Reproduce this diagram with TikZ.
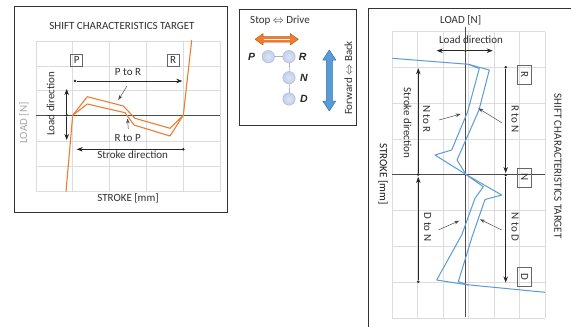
\documentclass[tikz,border=0pt]{standalone}
\usepackage{fontspec}
\setmainfont{Carlito}
\newfontfamily\gearfont{Liberation Sans}
\usetikzlibrary{arrows.meta}
\definecolor{orng}{HTML}{ED7D31}
\definecolor{orngd}{HTML}{C55A11}
\definecolor{blu}{HTML}{5B9BD5}
\definecolor{blud}{HTML}{2E75B6}
\definecolor{gridc}{HTML}{DCDCDC}
\definecolor{txt}{HTML}{303030}
\definecolor{ballc}{HTML}{C6D3EC}
\definecolor{balld}{HTML}{A7B9DC}
\tikzset{
  frame/.style={draw=black!80, line width=1pt},
  gridl/.style={draw=gridc, line width=0.6pt},
  axisl/.style={draw=black!70, line width=0.7pt},
  lbl/.style={text=txt, font=\fontsize{11}{13}\selectfont, inner sep=0pt},
  dirarrow/.style={-{Stealth[length=6pt,width=4.5pt]}, draw=black!85, line width=0.6pt},
  ptr/.style={-{Stealth[length=5pt,width=3.5pt]}, draw=black!70, line width=0.5pt},
  dotc/.style={circle, fill=black!85, inner sep=0pt, minimum size=2.8pt},
  curveO/.style={draw=orng, line width=1.1pt, line join=round},
  curveB/.style={draw=blu, line width=1pt, line join=round},
  lbox/.style={lbl, draw=black!60, line width=0.6pt, minimum size=12pt},
  rbox/.style={lbl, draw=black!60, line width=0.6pt, minimum width=19pt, minimum height=14pt},
  ball/.style={circle, inner color=ballc!60!white, outer color=ballc!85!balld, draw=balld, line width=0.4pt, minimum size=12.5pt, inner sep=0pt},
  gear/.style={font=\gearfont\bfseries\itshape\fontsize{10.5}{12}\selectfont, text=black!85, inner sep=0pt}
}
\begin{document}
\begin{tikzpicture}[x=1pt,y=-1pt]
\useasboundingbox (0,0) rectangle (571,327);
\fill[white] (0,0) rectangle (571,327);

%%% ---------------- left panel ----------------
\draw[frame] (14,6) rectangle (227,212.5);
\foreach \x in {36,72.7,109.5,146.4,183.3,220} \draw[gridl] (\x,41) -- (\x,191.7);
\foreach \y in {41,66,90.7,141.5,166.7,191.7} \draw[gridl] (36,\y) -- (220,\y);
\draw[axisl] (36,115.3) -- (220,115.3);

\draw[curveO] (66,191.7) -- (72.7,115.3) -- (87.3,96.7) -- (123.3,106) -- (135,118.3)
   -- (170,128.3) -- (183.3,115.3) -- (191.7,40);
\draw[curveO] (72.7,115.3) -- (87.3,104) -- (125,112.7) -- (134,125) -- (170,136) -- (183.3,115.3);

\node[lbl] (ltitle) at (122,26) {SHIFT CHARACTERISTICS TARGET};
\node[lbox] (lP) at (76.7,60) {P};
\node[lbox] (lR) at (173,60) {R};
\node[lbl] (lPR) at (128,72) {P to R};
\node[lbl] (lRP) at (127.7,138) {R to P};
\node[lbl] (lSD) at (132.7,155) {Stroke direction};
\node[lbl, rotate=90] (lLD) at (50.7,104) {Load direction};
\node[lbl, rotate=90, text=black!35] (lLoad) at (24,123) {LOAD [N]};
\node[lbl] (lStroke) at (128,198) {STROKE [mm]};

\node[dotc] (lPRs) at (75,81) {};
\coordinate (lPRe) at (182.3,81);
\draw[dirarrow] (lPRs) -- (lPRe);
\node[dotc] (lLDc) at (66.7,115.3) {};
\coordinate (lLDt) at (66.7,89);
\coordinate (lLDb) at (66.7,140);
\draw[dirarrow] (lLDc) -- (lLDt);
\draw[dirarrow] (lLDc) -- (lLDb);
\node[dotc] (lSDs) at (183.3,149.3) {};
\coordinate (lSDe) at (76.7,149.3);
\draw[dirarrow] (lSDs) -- (lSDe);
\coordinate (lp1s) at (127,86); \coordinate (lp1e) at (118.3,100);
\draw[ptr] (lp1s) -- (lp1e);
\coordinate (lp2s) at (128.3,129); \coordinate (lp2e) at (127.5,118.5);
\draw[ptr] (lp2s) -- (lp2e);

%%% ---------------- middle panel ----------------
\draw[frame] (239,9) rectangle (356,125);
\node[lbl] (mSD) at (280,21) {Stop $\Leftrightarrow$ Drive};
\draw[fill=orng, draw=orngd, line width=0.5pt, line join=round]
  (255,39.3) -- (263,33.6) -- (263,36.6) -- (290.3,36.6) -- (290.3,33.6) -- (298.3,39.3)
  -- (290.3,45) -- (290.3,42) -- (263,42) -- (263,45) -- cycle;
\draw[white, line width=1.6pt] (263.5,39.3) -- (289.8,39.3);

\draw[draw=black!30, line width=1pt] (268.3,56.7) -- (289,56.7) -- (289,77.7) -- (289,99);
\node[ball] (bP) at (268.3,56.7) {};
\node[ball] (bR) at (289,56.7) {};
\node[ball] (bN) at (289,77.7) {};
\node[ball] (bD) at (289,99) {};
\node[gear] (gP) at (251.7,56.7) {P};
\node[gear] (gR) at (302.7,56.7) {R};
\node[gear] (gN) at (304,77.7) {N};
\node[gear] (gD) at (304,99) {D};

\draw[fill=blu, draw=blud, line width=0.5pt, line join=round]
  (329.3,50) -- (335.8,60) -- (332.3,60) -- (332.3,101) -- (335.8,101) -- (329.3,111)
  -- (322.8,101) -- (326.3,101) -- (326.3,60) -- (322.8,60) -- cycle;
\node[lbl, rotate=90] (mFB) at (348.3,78) {Forward $\Leftrightarrow$ Back};

%%% ---------------- right panel ----------------
\draw[frame] (368.3,327) -- (368.3,8.3) -- (571,8.3);
\foreach \x in {392.3,417.7,443.2,468.6,494,519.5,545} \draw[gridl] (\x,31.7) -- (\x,318.1);
\foreach \y in {31.7,67.5,103.3,139.1,210.7,246.5,282.3,318.1} \draw[gridl] (392.3,\y) -- (545,\y);
\draw[axisl] (392.3,174.5) -- (545,174.5);
\draw[axisl] (465.5,27) -- (465.5,317);

\draw[curveB] (392.3,58.3) -- (468.3,64.3);
\draw[curveB] (468.3,64.3) -- (489.3,70) -- (479,110) -- (457,160) -- (466,174.5);
\draw[curveB] (468.3,64.3) -- (479.3,68.5) -- (467.5,112) -- (451.7,150) -- (435,155) -- (466,174.5);
\draw[curveB] (466,174.5) -- (501.7,195) -- (485,199.5) -- (472,237) -- (458.3,281.7) -- (468.3,285);
\draw[curveB] (466,174.5) -- (483.3,186.7) -- (475,198.3) -- (461.7,235) -- (436.7,280) -- (466,284.6);
\draw[curveB] (466,284.6) -- (545,292.3);

\node[lbl, fill=white, inner sep=0.5pt] (rLoad) at (460.7,20.7) {LOAD [N]};
\node[lbl] (rLD) at (471,39.3) {Load direction};
\node[lbl, rotate=-90, text=black!90] (rStroke) at (383,174) {STROKE [mm]};
\node[lbl, rotate=-90] (rTitle) at (558,166) {SHIFT CHARACTERISTICS TARGET};
\node[lbl, rotate=-90] (rSD) at (407.7,123) {Stroke direction};
\node[lbl, rotate=-90] (rNR) at (426.7,119) {N to R};
\node[lbl, rotate=-90] (rRN) at (515,119) {R to N};
\node[lbl, rotate=-90] (rDN) at (427.7,227) {D to N};
\node[lbl, rotate=-90] (rND) at (515,227) {N to D};
\node[rbox, rotate=-90] (rbR) at (524.7,74.5) {R};
\node[rbox, rotate=-90] (rbN) at (524.7,177.5) {N};
\node[rbox, rotate=-90] (rbD) at (524.7,277) {D};

\node[dotc] (rLDc) at (465.5,50.7) {};
\coordinate (rLDl) at (436.7,50.7);
\coordinate (rLDr) at (492.7,50.7);
\draw[dirarrow] (rLDc) -- (rLDl);
\draw[dirarrow] (rLDc) -- (rLDr);
\node[dotc] (rS1s) at (418.3,174.5) {};
\coordinate (rS1e) at (418.3,68.3);
\draw[dirarrow] (rS1s) -- (rS1e);
\node[dotc] (rS2s) at (418.3,281.7) {};
\coordinate (rS2e) at (418.3,177);
\draw[dirarrow] (rS2s) -- (rS2e);
\node[dotc] (rRNs) at (505.7,67.3) {};
\coordinate (rRNe) at (505.7,173);
\draw[dirarrow] (rRNs) -- (rRNe);
\node[dotc] (rNDs) at (505.7,175) {};
\coordinate (rNDe) at (505.7,282.5);
\draw[dirarrow] (rNDs) -- (rNDe);

\coordinate (rp1s) at (439,120); \coordinate (rp1e) at (460.7,114);
\draw[ptr] (rp1s) -- (rp1e);
\coordinate (rp2s) at (501.7,122.7); \coordinate (rp2e) at (478.3,108.3);
\draw[ptr] (rp2s) -- (rp2e);
\coordinate (rp3s) at (438.3,230); \coordinate (rp3e) at (459.3,220.7);
\draw[ptr] (rp3s) -- (rp3e);
\coordinate (rp4s) at (501.7,230); \coordinate (rp4e) at (480,219.3);
\draw[ptr] (rp4s) -- (rp4e);
\end{tikzpicture}
\end{document}
